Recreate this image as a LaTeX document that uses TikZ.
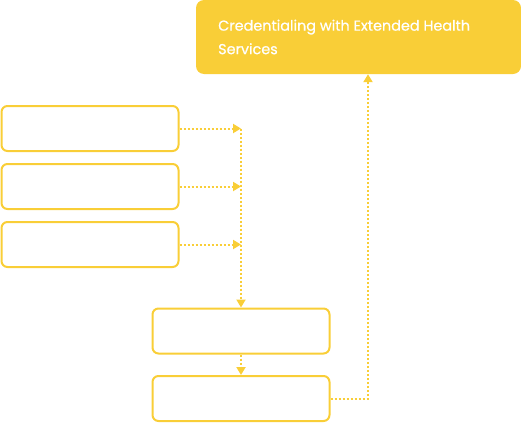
\documentclass[tikz,border=0pt]{standalone}
\usepackage{fontspec}
\setmainfont{Poppins}
\newfontfamily\medfont{Poppins}[FakeBold=0.6]
\usetikzlibrary{arrows.meta}
\definecolor{gold}{HTML}{F9CE37}
\begin{document}
\begin{tikzpicture}[x=1pt,y=-1pt,
  box/.style={draw=gold,line width=2pt,rounded corners=6pt,minimum width=177pt,minimum height=45pt,inner sep=0pt},
  conn/.style={draw=gold,line width=2pt,dash pattern=on 2pt off 2pt},
  tip/.style={-{Triangle[length=8pt,width=9pt,fill=gold,color=gold]}}]
\useasboundingbox (0,0) rectangle (521,423);
\node[fill=gold,rounded corners=8pt,minimum width=325pt,minimum height=74pt,inner sep=0pt] (top) at (358.5,37) {};
\node[anchor=north west,text=white,font=\medfont\fontsize{14.4}{23.5}\selectfont,align=left,inner sep=0pt] (toptext) at (218,19.5) {Credentialing with Extended Health\\Services};
\node[box] (b1) at (90,128.5) {};
\node[box] (b2) at (90,186.5) {};
\node[box] (b3) at (90,244.5) {};
\node[box] (b4) at (241,331) {};
\node[box] (b5) at (241,398.5) {};
\coordinate (j1) at (241,128.5);
\coordinate (j2) at (241,186.5);
\coordinate (j3) at (241,244.5);
\coordinate (c1) at (368,398.5);
\draw[conn,tip] (b1.east) -- (j1);
\draw[conn,tip] (b2.east) -- (j2);
\draw[conn,tip] (b3.east) -- (j3);
\draw[conn,tip] (j1) -- (b4.north);
\draw[conn,tip] (b4.south) -- (b5.north);
\draw[conn,tip] (b5.east) -- (c1) -- (c1 |- top.south);
\end{tikzpicture}
\end{document}
